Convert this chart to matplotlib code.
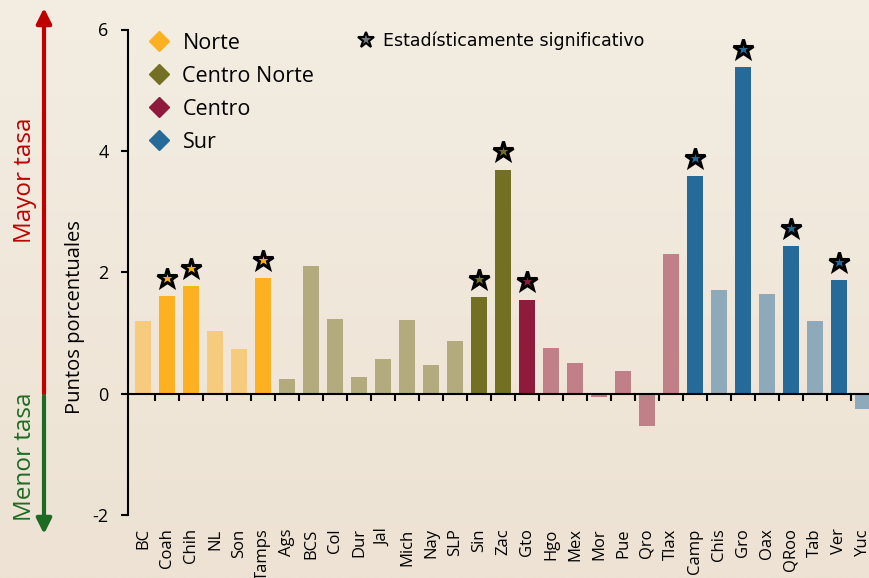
import numpy as np
import matplotlib
matplotlib.use("Agg")
import matplotlib.pyplot as plt
from matplotlib.lines import Line2D
from matplotlib.markers import MarkerStyle

plt.rcParams['font.family'] = ['Open Sans', 'DejaVu Sans']
plt.rcParams['axes.unicode_minus'] = False

# data
states = ['BC', 'Coah', 'Chih', 'NL', 'Son', 'Tamps',
          'Ags', 'BCS', 'Col', 'Dur', 'Jal', 'Mich', 'Nay', 'SLP', 'Sin', 'Zac',
          'Gto', 'Hgo', 'Mex', 'Mor', 'Pue', 'Qro', 'Tlax',
          'Camp', 'Chis', 'Gro', 'Oax', 'QRoo', 'Tab', 'Ver', 'Yuc']
values = [1.20, 1.61, 1.77, 1.03, 0.74, 1.91,
          0.24, 2.10, 1.23, 0.27, 0.57, 1.22, 0.47, 0.86, 1.59, 3.69,
          1.55, 0.76, 0.51, -0.05, 0.37, -0.54, 2.30,
          3.58, 1.71, 5.38, 1.64, 2.43, 1.20, 1.87, -0.25]
region = ['Norte'] * 6 + ['Centro Norte'] * 10 + ['Centro'] * 7 + ['Sur'] * 8
significant = ['Coah', 'Chih', 'Tamps', 'Sin', 'Zac', 'Gto', 'Camp', 'Gro', 'QRoo', 'Ver']

regions = ['Norte', 'Centro Norte', 'Centro', 'Sur']
strong = {'Norte': '#FDB022', 'Centro Norte': '#747023',
          'Centro': '#8E1B3B', 'Sur': '#266A9A'}
light = {'Norte': '#F6CB7E', 'Centro Norte': '#B3AA7E',
         'Centro': '#C17F87', 'Sur': '#8EA9B9'}

W, H = 869, 578
fig = plt.figure(figsize=(W / 100, H / 100), dpi=100)

# background gradient
bg = fig.add_axes([0, 0, 1, 1], zorder=-10)
grad = np.linspace(0, 1, 256)[:, None]
cmap = matplotlib.colors.LinearSegmentedColormap.from_list('bg', ['#F3EDE2', '#EDE2D3'])
bg.imshow(grad, aspect='auto', cmap=cmap, extent=[0, 1, 0, 1])
bg.axis('off')

ax = fig.add_axes([128 / W, (H - 515) / H, (875 - 128) / W, (515 - 29.5) / H])
ax.patch.set_alpha(0)

x = np.arange(len(states))
colors = [strong[r] if s in significant else light[r] for s, r in zip(states, region)]
ax.bar(x, values, width=0.67, color=colors, zorder=2)

star = MarkerStyle('*', joinstyle='miter')
for xi, s, v, r in zip(x, states, values, region):
    if s in significant:
        ax.plot(xi, v + 0.3, marker=star, markersize=15, markerfacecolor=strong[r],
                markeredgecolor='black', markeredgewidth=2.2, zorder=4, clip_on=False)

ax.set_ylim(-2, 6)
ax.set_xlim(-0.625, 30.5)
ax.set_yticks([-2, 0, 2, 4, 6])
ax.tick_params(axis='y', direction='out', length=5, width=1.5, labelsize=13, pad=9)

ax.spines['top'].set_visible(False)
ax.spines['right'].set_visible(False)
ax.spines['left'].set_linewidth(1.5)
ax.spines['bottom'].set_position(('data', 0))
ax.spines['bottom'].set_linewidth(1.5)
ax.spines['bottom'].set_zorder(3)

ax.set_xticks(x)
ax.set_xticklabels(states, rotation=90, fontsize=12)
ax.tick_params(axis='x', which='major', length=0, pad=97)
ax.set_xticks(x[:-1] + 0.5, minor=True)
ax.tick_params(axis='x', which='minor', direction='out', length=5, width=1.5)

# legends
reg_handles = [Line2D([], [], linestyle='none', marker='D', markersize=10,
                      markerfacecolor=strong[r], markeredgecolor=strong[r]) for r in regions]
leg1 = ax.legend(reg_handles, regions, loc='upper left', frameon=False, fontsize=15.5,
                 bbox_to_anchor=(148 / W, (H - 33) / H), bbox_transform=fig.transFigure,
                 borderpad=0, borderaxespad=0, handlelength=1.0, handletextpad=0.6,
                 labelspacing=0.55)
ax.add_artist(leg1)
star_handle = Line2D([], [], linestyle='none', marker=star, markersize=12,
                     markerfacecolor='#777777', markeredgecolor='black', markeredgewidth=1.5)
ax.legend([star_handle], ['Estadísticamente significativo'], loc='upper left', frameon=False,
          prop={'family': 'DejaVu Sans', 'size': 12.5},
          bbox_to_anchor=(357 / W, (H - 32) / H), bbox_transform=fig.transFigure,
          borderpad=0, borderaxespad=0, handlelength=1.0, handletextpad=0.5)

fig.text(75 / W, 1 - 317 / H, 'Puntos porcentuales', rotation=90, ha='center', va='center',
         fontsize=14.5)

# side arrows
ov = fig.add_axes([0, 0, 1, 1], zorder=5)
ov.set_xlim(0, W)
ov.set_ylim(H, 0)
ov.axis('off')
ov.annotate('', xy=(44, 8), xytext=(44, 394),
            arrowprops=dict(arrowstyle='-|>,head_length=0.9,head_width=0.45', color='#C00000',
                            lw=3, shrinkA=0, shrinkB=0))
ov.annotate('', xy=(44, 534), xytext=(44, 396),
            arrowprops=dict(arrowstyle='-|>,head_length=0.9,head_width=0.45', color='#1E6A24',
                            lw=3, shrinkA=0, shrinkB=0))
ov.text(25, 180, 'Mayor tasa', rotation=90, ha='center', va='center', fontsize=17.5,
        color='#C00000')
ov.text(25, 457, 'Menor tasa', rotation=90, ha='center', va='center', fontsize=17.5,
        color='#1E6A24')

fig.savefig('out.png', dpi=100)
